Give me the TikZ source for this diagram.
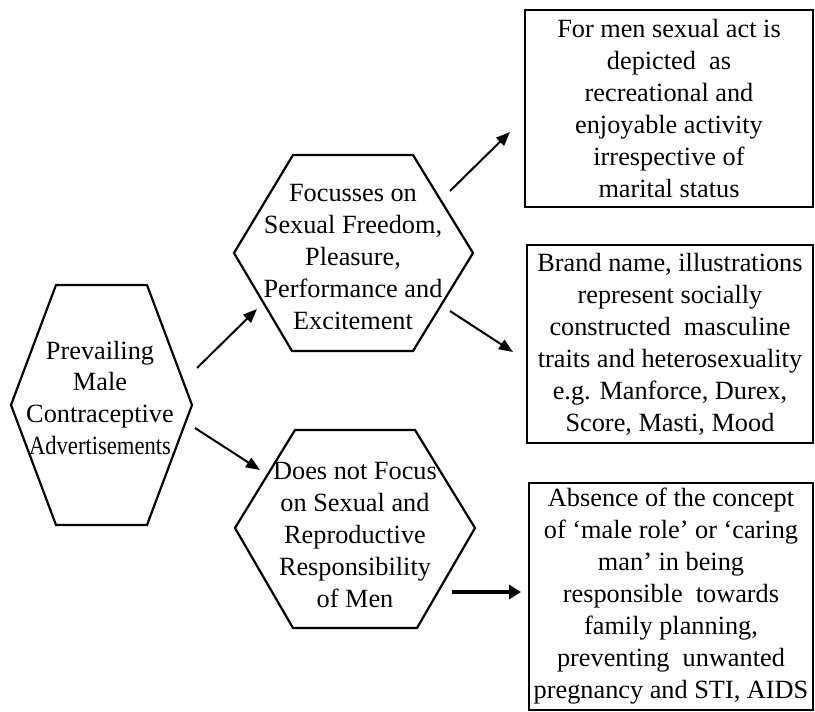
\documentclass[tikz,border=0pt]{standalone}
\usepackage{fontspec}
\usepackage{graphicx}
\setmainfont{Liberation Serif}
\usetikzlibrary{arrows.meta}
\begin{document}
\begin{tikzpicture}[x=1pt,y=-1pt,
  hexline/.style={line width=2.2pt, line join=miter},
  boxnode/.style={draw, line width=2.8pt, inner sep=0pt, align=center, font=\fontsize{26.3}{32}\selectfont},
  txt/.style={align=center, inner sep=0pt, font=\fontsize{26.3}{32}\selectfont},
  arr/.style={line width=2pt, -{Triangle[length=14pt,width=11pt]}},
  thickarr/.style={line width=3.6pt, -{Triangle[length=12pt,width=14pt]}},
]
\useasboundingbox (0,0) rectangle (815,712);

% hexagons
\draw[hexline] (56,285) -- (147,285) -- (192,405) -- (147,525) -- (56,525) -- (11,405) -- cycle;
\draw[hexline] (293,155) -- (413,155) -- (473,253) -- (413,351) -- (292,351) -- (234,253) -- cycle;
\draw[hexline] (295,430) -- (415,430) -- (475,528) -- (417,628) -- (293,628) -- (235,528) -- cycle;

% hexagon texts
\node[txt] (L) at (100,398) {Prevailing\\Male\\Contraceptive\\\scalebox{0.86}[1]{Advertisements}};
\node[txt] (T) at (353,257) {Focusses on\\Sexual Freedom,\\Pleasure,\\Performance and\\Excitement};
\node[txt] (B) at (355,535) {Does not Focus\\on Sexual and\\Reproductive\\Responsibility\\of Men};

% boxes
\node[boxnode, minimum width=288pt, minimum height=197pt] (R1) at (669,108.5)
  {For men sexual act is\\depicted\ \ as\\recreational and\\enjoyable activity\\irrespective of\\marital status};
\node[boxnode, minimum width=286pt, minimum height=198pt] (R2) at (670,344)
  {Brand name, illustrations\\represent socially\\constructed\ \ masculine\\traits and heterosexuality\\e.g. Manforce, Durex,\\Score, Masti, Mood};
\node[boxnode, minimum width=284pt, minimum height=227pt] (R3) at (671,596.5)
  {Absence of the concept\\of ‘male role’ or ‘caring\\man’ in being\\responsible\ \ towards\\family planning,\\preventing\ \ unwanted\\pregnancy and STI, AIDS};

% arrow end points
\coordinate (a1s) at (197,368); \coordinate (a1e) at (257,309);
\coordinate (a2s) at (195,428); \coordinate (a2e) at (260,470);
\coordinate (a3s) at (450,191); \coordinate (a3e) at (510,132);
\coordinate (a4s) at (450,311); \coordinate (a4e) at (513,352);
\coordinate (a5s) at (452,592); \coordinate (a5e) at (521,592);

\draw[arr] (a1s) -- (a1e);
\draw[arr] (a2s) -- (a2e);
\draw[arr] (a3s) -- (a3e);
\draw[arr] (a4s) -- (a4e);
\draw[thickarr] (a5s) -- (a5e);
\end{tikzpicture}
\end{document}
